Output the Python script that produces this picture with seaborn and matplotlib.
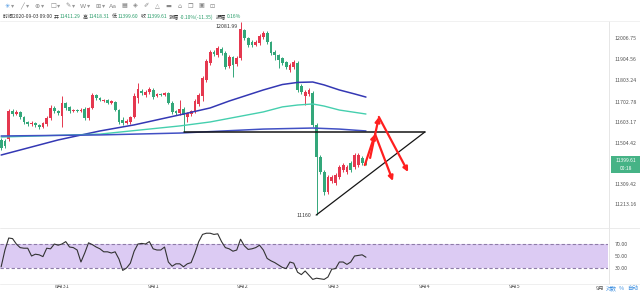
import numpy as np
import pandas as pd
import matplotlib
matplotlib.use('Agg')
import matplotlib.pyplot as plt
import seaborn as sns
from matplotlib.patches import Rectangle
from matplotlib.lines import Line2D

sns.set_theme(style='white')
plt.rcParams['font.family'] = ['Noto Sans CJK SC', 'DejaVu Sans']

# ---------------- data (hourly candles) ----------------
open_ = [11519, 11514, 11524, 11657, 11643, 11653, 11629, 11605, 11595, 11600,
         11591, 11581, 11595, 11624, 11672, 11657, 11634, 11696, 11677, 11657,
         11662, 11657, 11667, 11624, 11672, 11734, 11720, 11705, 11710, 11696,
         11700, 11662, 11614, 11600, 11605, 11629, 11720, 11753, 11734, 11748,
         11758, 11729, 11739, 11734, 11743, 11696, 11657, 11648, 11667, 11629,
         11643, 11653, 11691, 11729, 11806, 11887, 11939, 11925, 11954, 11935,
         11873, 11916, 11882, 11911, 12045, 12006, 11987, 11973, 11982, 12011,
         12030, 11987, 11939, 11925, 11911, 11892, 11853, 11868, 11887, 11777,
         11729, 11739, 11743, 11591, 11438, 11366, 11270, 11323, 11313, 11342,
         11375, 11366, 11409, 11390, 11399, 11433, 11411.29]
close = [11481, 11490, 11657, 11643, 11653, 11629, 11605, 11595, 11600, 11591,
         11581, 11600, 11624, 11672, 11657, 11648, 11696, 11672, 11657, 11662,
         11657, 11662, 11624, 11672, 11734, 11720, 11710, 11710, 11696, 11705,
         11662, 11605, 11600, 11610, 11629, 11729, 11763, 11743, 11748, 11763,
         11724, 11739, 11734, 11743, 11696, 11653, 11648, 11667, 11638, 11648,
         11657, 11705, 11734, 11815, 11896, 11939, 11930, 11959, 11935, 11868,
         11916, 11877, 11911, 12050, 12006, 11973, 11973, 11987, 12016, 12030,
         11987, 11935, 11925, 11901, 11887, 11868, 11877, 11892, 11758, 11748,
         11748, 11758, 11591, 11438, 11366, 11270, 11342, 11342, 11352, 11390,
         11399, 11390, 11375, 11447, 11447, 11409, 11399.61]
high = [11528, 11524, 11667, 11667, 11662, 11657, 11634, 11610, 11610, 11605,
        11595, 11605, 11634, 11686, 11681, 11662, 11729, 11700, 11681, 11667,
        11667, 11672, 11677, 11677, 11743, 11739, 11724, 11715, 11715, 11710,
        11705, 11667, 11629, 11619, 11634, 11743, 11791, 11763, 11758, 11772,
        11767, 11743, 11743, 11748, 11748, 11705, 11662, 11710, 11677, 11653,
        11662, 11715, 11743, 11825, 11906, 11949, 11949, 11968, 11963, 11944,
        11925, 11920, 11920, 12081.99, 12049, 12011, 11997, 11997, 12026, 12040,
        12040, 11992, 11949, 11930, 11916, 11896, 11887, 11901, 11896, 11787,
        11758, 11767, 11753, 11600, 11447, 11375, 11352, 11352, 11361, 11399,
        11409, 11399, 11418, 11457, 11457, 11442, 11418.31]
low = [11471, 11481, 11514, 11634, 11638, 11619, 11595, 11586, 11586, 11581,
       11571, 11576, 11586, 11614, 11648, 11638, 11581, 11662, 11648, 11653,
       11653, 11653, 11614, 11614, 11667, 11710, 11705, 11700, 11691, 11691,
       11657, 11595, 11591, 11595, 11595, 11624, 11696, 11734, 11724, 11739,
       11715, 11724, 11729, 11729, 11691, 11643, 11638, 11638, 11557, 11605,
       11634, 11648, 11681, 11705, 11796, 11877, 11920, 11916, 11925, 11858,
       11863, 11820, 11873, 11901, 11997, 11963, 11963, 11968, 11973, 12002,
       11978, 11925, 11901, 11863, 11877, 11858, 11844, 11858, 11748, 11739,
       11686, 11729, 11581, 11160.00, 11356, 11256, 11261, 11313, 11304, 11332,
       11366, 11356, 11366, 11380, 11390, 11399, 11399.60]

# moving averages at selected candles
ma_idx = [0, 15, 26, 35, 48, 55, 60, 69, 74, 78, 82, 85, 89, 93, 96]
ma_fast = [11447, 11519, 11562, 11591, 11643, 11672, 11705, 11758, 11784, 11794, 11796,
           11782, 11758, 11739, 11724]
ma2_idx = [0, 26, 47, 55, 69, 74, 78, 82, 85, 89, 96]
ma_mid = [11533, 11547, 11586, 11605, 11653, 11677, 11686, 11691, 11681, 11662, 11643]
ma3_idx = [0, 26, 47, 69, 82, 89, 96]
ma_slow = [11538, 11543, 11552, 11571, 11576, 11571, 11562]

rsi = [32, 60, 80, 79, 70, 64, 63, 63, 50, 53, 52, 49, 63, 62, 70, 68, 70, 74, 65, 64,
       60, 40, 55, 72, 69, 65, 62, 57, 57, 55, 57, 45, 26, 30, 38, 58, 70, 71, 70, 74,
       62, 60, 60, 65, 40, 33, 37, 37, 32, 37, 39, 55, 74, 86, 88, 88, 86, 87, 74, 64,
       62, 58, 60, 78, 67, 61, 62, 64, 68, 60, 46, 42, 39, 35, 31, 29, 40, 38, 23, 19,
       25, 18, 11, 13, 12, 11, 15, 28, 29, 40, 40, 36, 40, 50, 51, 52, 48]

price_ticks = [12006.75, 11904.56, 11803.24, 11702.78, 11603.17, 11504.42, 11309.42, 11213.16]
rsi_ticks = [70, 50, 30]
day_pos = [16, 40, 63.5, 87.5, 111.5, 135]
day_labels = ['8月31', '9月1', '9月2', '9月3', '9月4', '9月5']
support_level = 11557
trend_x = [82.9, 111.5]
trend_y = [11160, 11557]
arrows = [((95.7, 11399), (98.4, 11547)), ((98.4, 11547), (103.1, 11323)),
          ((97.1, 11433), (99.4, 11629)), ((99.4, 11629), (107.1, 11366))]
last_price = 11399.61

RED = '#e5384f'
GREEN = '#33a77a'
W, H = 640, 294

def fx(px):
    return px / W

def fy(py):
    return 1 - py / H

fig = plt.figure(figsize=(6.4, 2.94), dpi=100)
fig.patch.set_facecolor('white')
renderer = fig.canvas.get_renderer()

# ---------------- main price panel ----------------
ax = fig.add_axes([0, fy(226), 608 / W, (226 - 20) / H])
ax.set_xlim(-0.3, 159.7)
ax.set_ylim(11107.7, 12092.4)

df = pd.DataFrame(dict(o=open_, c=close, h=high, l=low))
df['i'] = np.arange(len(df))
up = df.c >= df.o
cols = np.where(up, RED, GREEN)
ax.vlines(df.i, df.l, df.h, colors=cols, linewidth=0.7)
ax.bar(df.i, (df.c - df.o).abs().clip(lower=1.8), bottom=np.minimum(df.o, df.c),
       width=0.72, color=cols, linewidth=0)

sns.lineplot(x=ma_idx, y=ma_fast, ax=ax, color='#3438b4', linewidth=1.1, estimator=None)
sns.lineplot(x=ma2_idx, y=ma_mid, ax=ax, color='#45cfae', linewidth=1.0, estimator=None)
sns.lineplot(x=ma3_idx, y=ma_slow, ax=ax, color='#4150c4', linewidth=1.1, estimator=None)

ax.plot([48, 111.5], [support_level, support_level], color='#151515', linewidth=1.1)
ax.plot(trend_x, trend_y, color='#151515', linewidth=0.9)

for (x0, y0), (x1, y1) in arrows:
    ax.annotate('', xy=(x1, y1), xytext=(x0, y0),
                arrowprops=dict(arrowstyle='-|>', color='#ff1f1f', lw=1.6,
                                mutation_scale=7, shrinkA=0, shrinkB=0))

ax.annotate('12081.99', xy=(62.2, 12081.99), xytext=(0, -3), textcoords='offset points',
            fontsize=3.8, color='#333', ha='right', va='center')
ax.text(81.6, 11160, '11160', fontsize=3.8, color='#333', ha='right', va='center')

ax.yaxis.tick_right()
ax.set_yticks(price_ticks)
ax.set_yticklabels([f'{v:.2f}' for v in price_ticks])
ax.tick_params(axis='y', length=0, labelsize=3.8, colors='#555555', pad=5)
ax.set_xticks([])
for s in ax.spines.values():
    s.set_visible(False)
ax.set_xlabel('')
ax.set_ylabel('')

# ---------------- RSI panel ----------------
rax = fig.add_axes([0, fy(283), 608 / W, 55 / H])
rax.set_xlim(-0.3, 159.7)
rax.set_ylim(5, 96.7)
rax.axhspan(30, 70, color='#dccbf3', linewidth=0)
rax.axhline(70, color='#8e7ca8', linestyle=(0, (3, 2)), linewidth=0.8)
rax.axhline(30, color='#8e7ca8', linestyle=(0, (3, 2)), linewidth=0.8)
sns.lineplot(x=np.arange(len(rsi)), y=rsi, ax=rax, color='#333333', linewidth=0.8, estimator=None)
rax.yaxis.tick_right()
rax.set_yticks(rsi_ticks)
rax.set_yticklabels([f'{v:.2f}' for v in rsi_ticks])
rax.tick_params(axis='y', length=0, labelsize=3.8, colors='#555555', pad=5)
rax.set_xticks(day_pos)
rax.set_xticklabels(day_labels)
rax.tick_params(axis='x', length=0, labelsize=4, colors='#555555', pad=1)
for s in rax.spines.values():
    s.set_visible(False)
rax.set_xlabel('')
rax.set_ylabel('')

# ---------------- frame lines ----------------
fig.add_artist(Line2D([fx(609), fx(609)], [fy(21), fy(284)], color='#e2e2e2', lw=0.6))
fig.add_artist(Line2D([0, 1], [fy(228), fy(228)], color='#e8e8e8', lw=0.6))
fig.add_artist(Line2D([0, 1], [fy(284), fy(284)], color='#ececec', lw=0.6))
fig.add_artist(Line2D([0, 1], [fy(21), fy(21)], color='#efefef', lw=0.6))

# ---------------- current price box ----------------
fig.add_artist(Rectangle((fx(611), fy(173)), 29 / W, 17 / H, transform=fig.transFigure,
                         facecolor='#46b386', edgecolor='none'))
fig.text(fx(625.5), fy(160.5), f'{last_price:.2f}', fontsize=3.6, color='white', ha='center', va='center')
fig.text(fx(625.5), fy(168.5), '00:18', fontsize=3.6, color='white', ha='center', va='center')

# ---------------- toolbar ----------------
icons = [(7, '✳', '#3b8de0'), (13, '▾', '#999'), (22, '╱', '#888'), (28, '▾', '#999'),
         (37, '⊕', '#888'), (43, '▾', '#999'), (53, '□', '#888'), (59, '▾', '#999'),
         (68, '✎', '#888'), (74, '▾', '#999'), (83, 'W', '#888'), (89, '▾', '#999'),
         (98, '⊞', '#888'), (104, '▾', '#999'), (113, 'Aa', '#888'), (124, '▦', '#888'),
         (135, '◈', '#888'), (146, '✐', '#888'), (157, '△', '#888'), (168, '▬', '#888'),
         (179, '⌂', '#888'), (190, '❐', '#888'), (201, '▣', '#888'), (212, '⊡', '#888')]
for x, t, c in icons:
    fig.text(fx(x), fy(6), t, fontsize=4.5, color=c, ha='center', va='center',
             family=['DejaVu Sans'])

# ---------------- info line (chained pieces) ----------------
DARK = '#333333'
INFO_G = '#2a9d6a'
info = [('时间2020-09-03 09:00', DARK, 2.2), ('开', DARK, 0.8), ('11411.29', INFO_G, 2.2),
        ('高', DARK, 0.8), ('11418.31', INFO_G, 2.2), ('低', DARK, 0.8), ('11399.60', INFO_G, 2.2),
        ('收', DARK, 0.8), ('11399.61', INFO_G, 2.2), ('涨幅', DARK, 0.8),
        ('-0.10%(-11.35)', INFO_G, 2.2), ('振幅', DARK, 0.8), ('0.16%', INFO_G, 0)]
xpos = 3.0
for t, c, gap in info:
    txt = fig.text(fx(xpos), fy(17), t, fontsize=3.6, color=c, ha='left', va='center')
    bb = txt.get_window_extent(renderer=renderer)
    xpos += bb.width + gap

# ---------------- bottom-right controls ----------------
fig.text(fx(596), fy(288), '9月', fontsize=4, color='#555555', ha='left', va='center')
fig.text(fx(606), fy(288), '对数', fontsize=4, color='#3d8fe0', ha='left', va='center')
fig.text(fx(619), fy(288), '%', fontsize=4, color='#3d8fe0', ha='left', va='center')
fig.text(fx(627), fy(288), '自动', fontsize=4, color='#3d8fe0', ha='left', va='center')

fig.savefig('out.png', dpi=100)
